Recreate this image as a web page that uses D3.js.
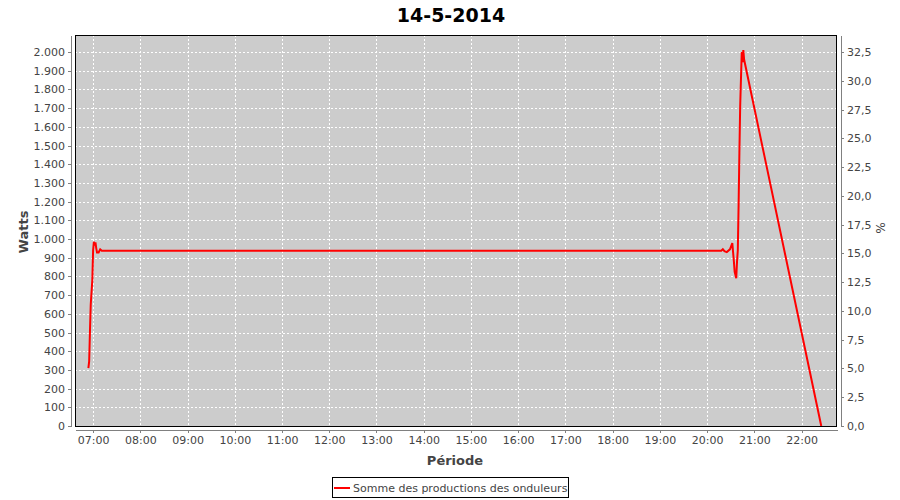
<!DOCTYPE html>
<html>
<head>
<meta charset="utf-8">
<script src="https://cdn.jsdelivr.net/npm/d3@7"></script>
<style>
  html, body { margin: 0; padding: 0; background: #ffffff; }
  svg { display: block; }
  text { font-family: "DejaVu Sans", sans-serif; }
</style>
</head>
<body>
<svg id="chart" width="900" height="500"></svg>
<script>
// ---- data ----
const chartTitle = "14-5-2014";
const seriesName = "Somme des productions des onduleurs";
const times = ["06:54","06:55","06:56","06:57","06:59","07:00","07:01","07:02","07:03","07:04","07:05","07:07","07:09","07:11",
               "20:18","20:20","20:22","20:25","20:29","20:32","20:34","20:35","20:37","20:38","20:39","20:40","20:41","20:42","20:44","20:45","20:46","20:47","22:25"];
const watts = [310,345,505,650,780,940,985,965,982,950,928,928,945,937,
               937,945,935,930,945,978,880,825,790,880,940,1180,1460,1710,2000,1945,2010,1960,0];
const leftTicks = [0,100,200,300,400,500,600,700,800,900,1000,1100,1200,1300,1400,1500,1600,1700,1800,1900,2000];
const rightTicks = [0,2.5,5,7.5,10,12.5,15,17.5,20,22.5,25,27.5,30,32.5];
const hourTicks = ["07:00","08:00","09:00","10:00","11:00","12:00","13:00","14:00","15:00","16:00","17:00","18:00","19:00","20:00","21:00","22:00"];
const timeDomain = ["06:37","22:45"];
const wattsMax = 2091;
const pctMax = 33.98;

// ---- setup ----
const day = "2014-05-14T";
const parse = s => new Date(day + s + ":00");
const data = times.map((t, i) => ({ t: parse(t), v: watts[i] }));

const L = 75, R = 837, T = 35, B = 426;
const svg = d3.select("#chart");

const x = d3.scaleTime().domain(timeDomain.map(parse)).range([L, R]);
const y = d3.scaleLinear().domain([0, wattsMax]).range([B, T]);
const y2 = d3.scaleLinear().domain([0, pctMax]).range([B, T]);

// title
svg.append("text").attr("x", 451).attr("y", 22).attr("text-anchor", "middle")
  .attr("font-size", 19).attr("font-weight", "bold").attr("fill", "#000").text(chartTitle);

// plot background
svg.append("rect").attr("x", L).attr("y", T).attr("width", R - L).attr("height", B - T)
  .attr("fill", "#cccccc");

// gridlines
const grid = svg.append("g").attr("stroke", "#ffffff").attr("stroke-dasharray", "2,2")
  .attr("stroke-width", 1).attr("shape-rendering", "crispEdges");
grid.selectAll("line.h").data(leftTicks.filter(d => d > 0)).join("line").attr("class", "h")
  .attr("x1", L).attr("x2", R).attr("y1", d => Math.round(y(d)) + 0.5).attr("y2", d => Math.round(y(d)) + 0.5);
grid.selectAll("line.v").data(hourTicks.map(parse)).join("line").attr("class", "v")
  .attr("y1", T).attr("y2", B).attr("x1", d => Math.round(x(d)) + 0.5).attr("x2", d => Math.round(x(d)) + 0.5);

// series line
const line = d3.line().x(d => x(d.t)).y(d => y(d.v));
svg.append("path").datum(data).attr("d", line).attr("fill", "none")
  .attr("stroke", "#ff0000").attr("stroke-width", 2).attr("stroke-linejoin", "miter");

// plot border
svg.append("rect").attr("x", L + 0.5).attr("y", T + 0.5).attr("width", R - L - 1).attr("height", B - T)
  .attr("fill", "none").attr("stroke", "#000").attr("stroke-width", 1).attr("shape-rendering", "crispEdges");

// axes
function styleAxis(g) {
  g.select(".domain").attr("stroke", "#808080");
  g.selectAll(".tick line").attr("stroke", "#808080");
  g.selectAll(".tick text").attr("fill", "#444444").attr("font-size", 11)
    .attr("font-family", "DejaVu Sans, sans-serif");
  g.attr("shape-rendering", "crispEdges");
}

const xAxis = d3.axisBottom(x).tickValues(hourTicks.map(parse)).tickFormat(d3.timeFormat("%H:%M"))
  .tickSizeInner(3).tickSizeOuter(0).tickPadding(3);
svg.append("g").attr("transform", `translate(0,${B + 4})`).call(xAxis).call(styleAxis);

const fmtLeft = d => d3.format(",")(d).replace(/,/g, ".");
const yAxis = d3.axisLeft(y).tickValues(leftTicks).tickFormat(fmtLeft)
  .tickSizeInner(3).tickSizeOuter(0).tickPadding(3);
svg.append("g").attr("transform", `translate(${L - 4},0)`).call(yAxis).call(styleAxis);

const fmtRight = d => d3.format(".1f")(d).replace(".", ",");
const y2Axis = d3.axisRight(y2).tickValues(rightTicks).tickFormat(fmtRight)
  .tickSizeInner(3).tickSizeOuter(0).tickPadding(3);
svg.append("g").attr("transform", `translate(${R + 4},0)`).call(y2Axis).call(styleAxis);

// axis labels
svg.append("text").attr("transform", "translate(28,232) rotate(-90)").attr("text-anchor", "middle")
  .attr("font-size", 13).attr("font-weight", "bold").attr("fill", "#444444").text("Watts");
svg.append("text").attr("transform", "translate(876,228) rotate(90)").attr("text-anchor", "middle")
  .attr("font-size", 12).attr("fill", "#444444").text("%");
svg.append("text").attr("x", 455).attr("y", 465).attr("text-anchor", "middle")
  .attr("font-size", 13).attr("font-weight", "bold").attr("fill", "#444444").text("Période");

// legend
const lg = svg.append("g");
lg.append("rect").attr("x", 332.5).attr("y", 477.5).attr("width", 236).attr("height", 20)
  .attr("fill", "#fff").attr("stroke", "#000").attr("shape-rendering", "crispEdges");
lg.append("line").attr("x1", 334).attr("x2", 350).attr("y1", 488).attr("y2", 488)
  .attr("stroke", "#ff0000").attr("stroke-width", 2);
lg.append("text").attr("x", 353).attr("y", 492).attr("font-size", 11).attr("fill", "#444444").text(seriesName);
</script>
</body>
</html>
